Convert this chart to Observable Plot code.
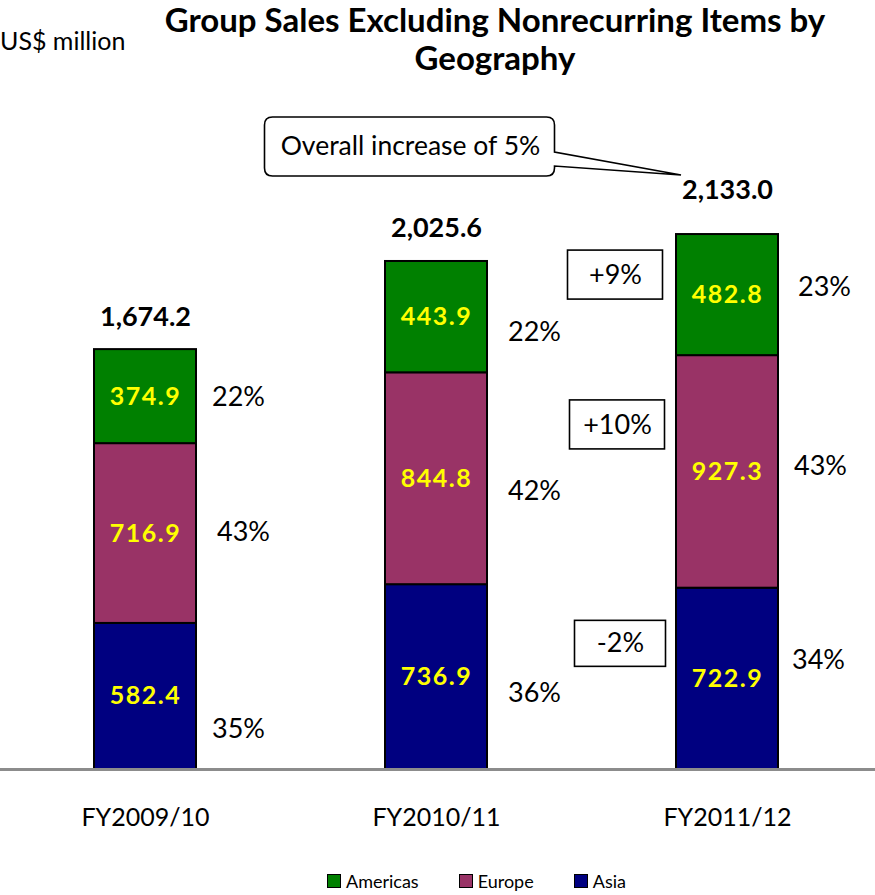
<!DOCTYPE html>
<html><head><meta charset="utf-8">
<script src="https://cdn.jsdelivr.net/npm/d3@7"></script>
<script src="https://cdn.jsdelivr.net/npm/@observablehq/plot@0.6"></script>
<style>
html,body{margin:0;padding:0;background:#fff;overflow:hidden;width:875px;height:895px;}
body{font-family:Lato,sans-serif;color:#000;}
#header{position:relative;height:90px;}
#title{position:absolute;left:0;top:0;width:875px;box-sizing:border-box;padding-left:115px;text-align:center;font-weight:bold;font-size:33px;line-height:38px;white-space:nowrap;}
#unit{position:absolute;left:0;top:25px;font-size:25px;line-height:1.2;white-space:nowrap;}
#chart{height:760px;}
#legend{height:45px;box-sizing:border-box;padding-top:17px;padding-left:327px;display:flex;align-items:center;font-size:18px;}
.item{display:flex;align-items:center;margin-right:40px;height:18px;}
.sw{width:12px;height:12px;border:1px solid #000;margin-right:5px;}
</style></head>
<body>
<div id="header"><div id="unit"></div><div id="title"></div></div>
<div id="chart"></div>
<div id="legend"></div>
<script>
// ---- data ----
const titleLines = ["Group Sales Excluding Nonrecurring Items by", "Geography"];
const unitLabel = "US$ million";
const years = ["FY2009/10", "FY2010/11", "FY2011/12"];
const regions = ["Americas", "Europe", "Asia"];
const colors = ["#008000", "#993366", "#000080"];
const americas = [374.9, 443.9, 482.8];
const europe = [716.9, 844.8, 927.3];
const asia = [582.4, 736.9, 722.9];
const totals = [1674.2, 2025.6, 2133.0];
const americasShare = ["22%", "22%", "23%"];
const europeShare = ["43%", "42%", "43%"];
const asiaShare = ["35%", "36%", "34%"];
const changeYear = "FY2011/12";
const changeLabels = {Americas: "+9%", Europe: "+10%", Asia: "-2%"};
const calloutText = "Overall increase of 5%";

// ---- layout nudges (px), mimicking the hand placed labels ----
const shareDx = {"FY2009/10": [93, 98, 93], "FY2010/11": [98, 98, 98], "FY2011/12": [97, 93, 91]}; // Americas, Europe, Asia
const shareDy = {"FY2009/10": [1, -1, 33], "FY2010/11": [15, 13, 16], "FY2011/12": [-8, -6, -18]};
const changeDx = {Americas: -112, Europe: -110, Asia: -107};
const changeDy = {Americas: -20, Europe: -47, Asia: -35};
const changeBox = {Americas: [95, 49], Europe: [95, 49], Asia: [91, 46]};
const totalDy = [-32, -33, -44];

// ---- build table ----
const seriesValues = {Americas: americas, Europe: europe, Asia: asia};
const seriesShares = {Americas: americasShare, Europe: europeShare, Asia: asiaShare};
const stackOrder = ["Asia", "Europe", "Americas"];
const rows = years.flatMap((year, i) => {
  let base = 0;
  return stackOrder.map(region => {
    const value = seriesValues[region][i];
    const r = {year, region, value, share: seriesShares[region][i], mid: base + value / 2};
    base += value;
    return r;
  });
});
const totalRows = years.map((year, i) => ({year, total: totals[i], i}));

document.getElementById("title").innerHTML = titleLines.join("<br>");
document.getElementById("unit").textContent = unitLabel;

const shareMarks = rows.map(r => {
  const k = regions.indexOf(r.region);
  return Plot.text([r], {x: "year", y: "mid", text: "share", dx: shareDx[r.year][k], dy: shareDy[r.year][k], fontSize: 27, fill: "#000"});
});
const changeRows = rows.filter(r => r.year === changeYear);
const changeMarks = changeRows.map(r => Plot.text([r], {
  x: "year", y: "mid", text: d => changeLabels[d.region], dx: changeDx[r.region], dy: changeDy[r.region],
  fontSize: 27, fill: "#000", ariaDescription: "change-" + r.region
}));
const totalMarks = totalRows.map(r => Plot.text([r], {
  x: "year", y: "total", text: d => d3.format(",.1f")(d.total), dy: totalDy[r.i], fontSize: 27, fontWeight: "bold", fill: "#000"
}));
const calloutRow = totalRows.find(r => r.year === changeYear);

const plot = Plot.plot({
  width: 875, height: 760,
  marginLeft: 0, marginRight: 0, marginTop: 52, marginBottom: 81,
  style: {fontFamily: "Lato, sans-serif", fontSize: "25px", background: "transparent", color: "#000", overflow: "visible"},
  x: {domain: years, paddingInner: 0.65, paddingOuter: 0.327, align: 0.493, axis: null},
  y: {domain: [0, 2500], axis: null},
  color: {domain: regions, range: colors},
  marks: [
    Plot.barY(rows, Plot.stackY({x: "year", y: "value", z: "region", fill: "region", stroke: "#000", strokeWidth: 2})),
    Plot.ruleY([0], {stroke: "#8c8c8c", strokeWidth: 3}),
    Plot.text(rows, Plot.stackY({x: "year", y: "value", z: "region", text: d => d.value.toFixed(1), fill: "#ffff00", fontWeight: "bold", fontSize: 25, ariaDescription: "values"})),
    ...shareMarks,
    ...changeMarks,
    ...totalMarks,
    Plot.text([calloutRow], {x: "year", y: "total", text: () => calloutText, dx: -317, dy: -88, fontSize: 26.5, fill: "#000", ariaDescription: "callout"}),
    Plot.axisX({tickSize: 0, tickPadding: 39, fontSize: 25, label: null})
  ]
});
document.getElementById("chart").append(plot);

// ---- decorations positioned from the library's scales ----
const sx = plot.scale("x"), sy = plot.scale("y");
const svg = d3.select(plot);
const groupFor = desc => svg.selectAll(":scope > g").filter(function () { return this.getAttribute("aria-description") === desc; }).node();
svg.selectAll(":scope > g").filter(function () { return this.getAttribute("aria-description") === "values"; }).style("letter-spacing", "1.5px");
const cx = sx.apply(changeYear) + sx.bandwidth / 2;
changeRows.forEach(r => {
  const [w, h] = changeBox[r.region];
  const x = cx + changeDx[r.region], y = sy.apply(r.mid) + changeDy[r.region];
  const g = groupFor("change-" + r.region);
  svg.insert("rect", () => g)
    .attr("x", x - w / 2).attr("y", y - h / 2).attr("width", w).attr("height", h)
    .attr("fill", "#fff").attr("stroke", "#000").attr("stroke-width", 1.6);
});
{
  const yt = sy.apply(calloutRow.total);
  const L = cx - 462.5, R = cx - 172.5, T = yt - 117, B = yt - 58, rr = 8;
  const tipX = cx - 46, tipY = yt - 59, t1 = yt - 82, t2 = yt - 68;
  const p = `M${L + rr},${T}H${R - rr}Q${R},${T} ${R},${T + rr}V${t1}L${tipX},${tipY}L${R},${t2}V${B - rr}Q${R},${B} ${R - rr},${B}H${L + rr}Q${L},${B} ${L},${B - rr}V${T + rr}Q${L},${T} ${L + rr},${T}Z`;
  const g = groupFor("callout");
  svg.insert("path", () => g).attr("d", p).attr("fill", "#fff").attr("stroke", "#000").attr("stroke-width", 1.6);
}

// ---- legend ----
const lg = d3.select("#legend");
regions.forEach((r, i) => {
  const it = lg.append("div").attr("class", "item");
  it.append("div").attr("class", "sw").style("background", colors[i]);
  it.append("span").text(r);
});
</script>
</body></html>
